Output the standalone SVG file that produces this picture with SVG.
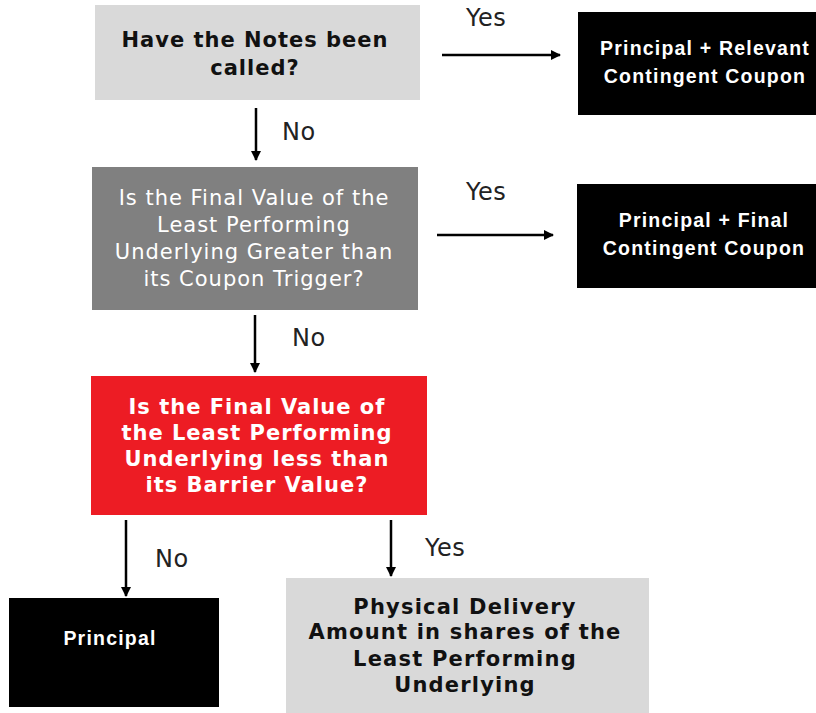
<svg xmlns="http://www.w3.org/2000/svg" width="816" height="713" viewBox="0 0 816 713">
<defs>
<marker id="ah" viewBox="0 0 10 10" refX="9" refY="5" markerWidth="11" markerHeight="10" markerUnits="userSpaceOnUse" orient="auto">
<path d="M0,0 L10,5 L0,10 z" fill="#000"/>
</marker>
<style>
.q{font-family:"DejaVu Sans","Verdana",sans-serif;font-size:21px;text-anchor:middle;letter-spacing:1px}
.b{font-weight:bold}
.r{font-family:"Liberation Sans",Arial,sans-serif;font-size:19.5px;font-weight:bold;fill:#fff;text-anchor:middle;letter-spacing:1.2px}
.lbl{font-family:"DejaVu Sans","Verdana",sans-serif;font-size:24px;fill:#222;letter-spacing:0.5px}
.ln{stroke:#000;stroke-width:2.5;fill:none;marker-end:url(#ah)}
</style>
</defs>
<rect width="816" height="713" fill="#fff"/>
<g id="q1">
<rect x="95" y="5" width="325" height="95" fill="#d9d9d9"/>
<text class="q b" fill="#111" x="255" y="47">Have the Notes been</text>
<text class="q b" fill="#111" x="255" y="75">called?</text>
</g>
<g id="r1">
<rect x="578" y="12" width="238" height="103" fill="#000"/>
<text class="r" x="705" y="55">Principal + Relevant</text>
<text class="r" x="705" y="83">Contingent Coupon</text>
</g>
<g id="q2">
<rect x="92" y="167" width="326" height="143" fill="#808080"/>
<text class="q" fill="#fff" x="254" y="205">Is the Final Value of the</text>
<text class="q" fill="#fff" x="254" y="232">Least Performing</text>
<text class="q" fill="#fff" x="254" y="259">Underlying Greater than</text>
<text class="q" fill="#fff" x="254" y="286">its Coupon Trigger?</text>
</g>
<g id="r2">
<rect x="577" y="184" width="239" height="104" fill="#000"/>
<text class="r" x="704" y="227">Principal + Final</text>
<text class="r" x="704" y="255">Contingent Coupon</text>
</g>
<g id="q3">
<rect x="91" y="376" width="336" height="139" fill="#ed1c24"/>
<text class="q b" fill="#fff" x="257" y="414">Is the Final Value of</text>
<text class="q b" fill="#fff" x="257" y="440">the Least Performing</text>
<text class="q b" fill="#fff" x="257" y="466">Underlying less than</text>
<text class="q b" fill="#fff" x="257" y="492">its Barrier Value?</text>
</g>
<g id="r3">
<rect x="9" y="598" width="210" height="109" fill="#000"/>
<text class="r" x="110" y="645">Principal</text>
</g>
<g id="r4">
<rect x="286" y="578" width="363" height="135" fill="#d9d9d9"/>
<text class="q b" fill="#111" x="465" y="614" style="letter-spacing:1.2px">Physical Delivery</text>
<text class="q b" fill="#111" x="465" y="639" style="letter-spacing:1.2px">Amount in shares of the</text>
<text class="q b" fill="#111" x="465" y="666" style="letter-spacing:1.2px">Least Performing</text>
<text class="q b" fill="#111" x="465" y="692" style="letter-spacing:1.2px">Underlying</text>
</g>
<g id="connectors">
<line class="ln" x1="442" y1="55" x2="560" y2="55"/>
<line class="ln" x1="256" y1="108" x2="256" y2="160"/>
<line class="ln" x1="437" y1="235" x2="553" y2="235"/>
<line class="ln" x1="255" y1="315" x2="255" y2="372"/>
<line class="ln" x1="126" y1="520" x2="126" y2="596"/>
<line class="ln" x1="391" y1="520" x2="391" y2="576"/>
<text class="lbl" x="466" y="26">Yes</text>
<text class="lbl" x="282" y="140">No</text>
<text class="lbl" x="466" y="200">Yes</text>
<text class="lbl" x="292" y="346">No</text>
<text class="lbl" x="155" y="567">No</text>
<text class="lbl" x="425" y="556">Yes</text>
</g>
</svg>
